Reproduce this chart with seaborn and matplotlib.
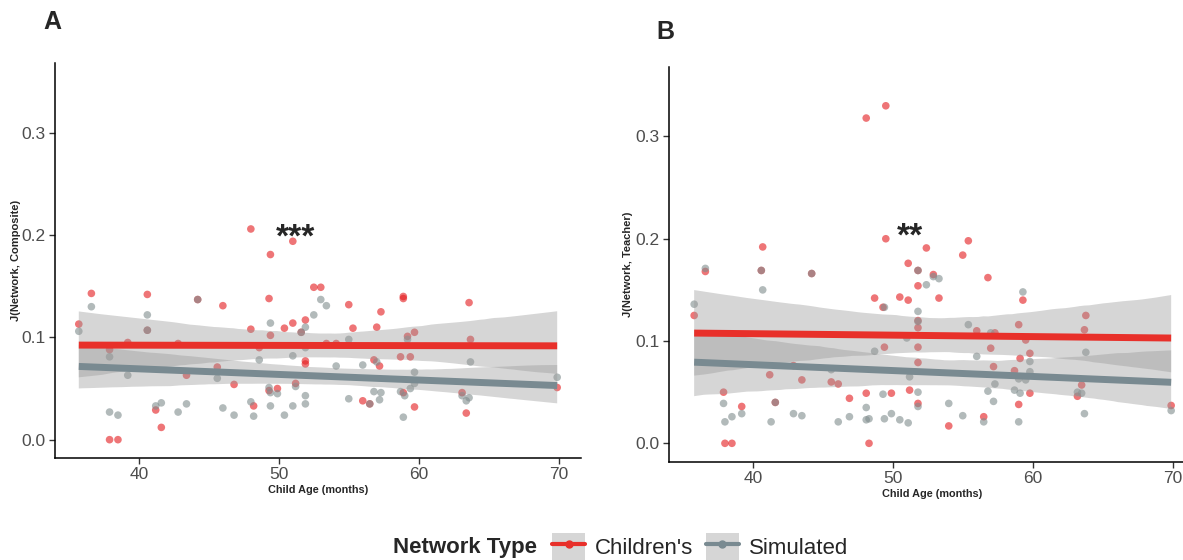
import matplotlib
matplotlib.use("Agg")
from matplotlib import pyplot as plt
from matplotlib.patches import Patch
from matplotlib.lines import Line2D
import pandas as pd
import seaborn as sns

# panel A: J(Network, Composite)
a_kid_age = [35.7, 36.6, 37.9, 37.9, 38.5, 39.2, 40.6, 40.6, 41.2, 41.6, 42.8, 43.4, 44.2, 45.6, 46.0,
             46.8, 48.0, 48.0, 48.2, 48.6, 49.3, 49.4, 49.4, 49.3, 49.9, 50.4, 51.0, 51.0, 51.2, 51.6,
             51.9, 51.9, 51.9, 52.5, 53.0, 53.4, 54.1, 55.0, 55.3, 56.0, 56.5, 56.8, 57.0, 57.2, 57.3,
             58.9, 58.9, 58.7, 58.9, 59.2, 59.4, 59.7, 59.7, 63.1, 63.4, 63.6, 63.7, 69.9]
a_kid_j = [0.113, 0.143, 0.088, 0.000, 0.000, 0.095, 0.142, 0.107, 0.029, 0.012, 0.094, 0.063, 0.137, 0.071, 0.131,
           0.054, 0.206, 0.108, 0.033, 0.090, 0.138, 0.181, 0.102, 0.048, 0.050, 0.109, 0.194, 0.114, 0.055, 0.105,
           0.117, 0.077, 0.074, 0.149, 0.149, 0.094, 0.094, 0.132, 0.109, 0.038, 0.035, 0.078, 0.110, 0.072, 0.125,
           0.138, 0.140, 0.081, 0.046, 0.101, 0.081, 0.105, 0.032, 0.046, 0.026, 0.134, 0.098, 0.051]
a_sim_age = [35.7, 36.6, 37.9, 37.9, 38.5, 39.2, 40.6, 40.6, 41.2, 41.6, 42.8, 43.4, 44.2, 45.6, 46.0,
             46.8, 48.0, 48.2, 48.6, 49.3, 49.4, 49.4, 49.4, 49.9, 50.4, 51.0, 51.2, 51.0, 51.6, 51.9,
             51.9, 51.9, 51.9, 52.5, 53.0, 53.4, 54.1, 55.0, 55.0, 56.0, 56.5, 56.8, 57.0, 57.3, 57.2,
             58.7, 59.0, 58.9, 59.2, 59.4, 59.7, 59.7, 63.1, 63.4, 63.6, 63.7, 69.9]
a_sim_j = [0.106, 0.130, 0.081, 0.027, 0.024, 0.063, 0.122, 0.107, 0.033, 0.036, 0.027, 0.035, 0.137, 0.060, 0.031,
           0.024, 0.037, 0.023, 0.078, 0.051, 0.114, 0.046, 0.033, 0.045, 0.024, 0.082, 0.052, 0.033, 0.105, 0.110,
           0.090, 0.043, 0.035, 0.122, 0.137, 0.131, 0.072, 0.098, 0.040, 0.073, 0.035, 0.047, 0.076, 0.046, 0.039,
           0.047, 0.043, 0.022, 0.098, 0.050, 0.066, 0.055, 0.043, 0.038, 0.041, 0.076, 0.061]

# panel B: J(Network, Teacher)
b_kid_age = [35.8, 36.6, 37.9, 38.0, 38.5, 39.2, 40.7, 40.6, 41.2, 41.6, 42.9, 43.5, 44.2, 45.6, 46.1,
             46.9, 48.1, 48.1, 48.3, 48.7, 49.5, 49.5, 49.3, 49.4, 49.9, 50.5, 51.1, 51.1, 51.2, 51.8,
             51.8, 51.8, 51.8, 51.8, 51.8, 51.8, 52.4, 52.9, 53.3, 54.0, 55.0, 55.4, 56.0, 56.8, 57.3,
             57.0, 57.2, 56.5, 58.7, 59.0, 59.0, 59.1, 59.3, 59.5, 59.8, 59.8, 63.2, 63.5, 63.7, 63.8, 69.9]
b_kid_j = [0.125, 0.168, 0.050, 0.000, 0.000, 0.036, 0.192, 0.169, 0.067, 0.040, 0.076, 0.062, 0.166, 0.060, 0.058,
           0.044, 0.318, 0.049, 0.000, 0.142, 0.330, 0.200, 0.133, 0.094, 0.049, 0.143, 0.176, 0.140, 0.052, 0.169,
           0.154, 0.120, 0.113, 0.094, 0.079, 0.039, 0.191, 0.165, 0.142, 0.017, 0.184, 0.198, 0.110, 0.162, 0.108,
           0.093, 0.075, 0.026, 0.071, 0.116, 0.038, 0.083, 0.140, 0.101, 0.088, 0.049, 0.046, 0.057, 0.111, 0.125, 0.037]
b_sim_age = [35.8, 36.6, 37.9, 38.0, 38.5, 39.2, 40.6, 40.7, 41.3, 41.6, 42.9, 43.5, 44.2, 45.6, 46.1,
             46.9, 48.1, 48.1, 48.3, 48.7, 49.4, 49.3, 49.4, 49.9, 50.5, 51.1, 51.2, 51.0, 51.8, 51.8,
             51.8, 51.8, 51.8, 52.4, 52.9, 53.3, 54.0, 55.0, 55.4, 56.0, 57.0, 57.3, 56.8, 57.2, 56.5,
             58.7, 59.0, 59.0, 59.1, 59.3, 59.5, 59.8, 59.8, 63.2, 63.5, 63.7, 63.8, 69.9]
b_sim_j = [0.136, 0.171, 0.039, 0.021, 0.026, 0.029, 0.169, 0.150, 0.021, 0.040, 0.029, 0.027, 0.166, 0.072, 0.021,
           0.026, 0.035, 0.023, 0.024, 0.090, 0.133, 0.048, 0.024, 0.029, 0.023, 0.020, 0.065, 0.103, 0.169, 0.129,
           0.119, 0.050, 0.036, 0.155, 0.163, 0.161, 0.039, 0.027, 0.116, 0.085, 0.108, 0.058, 0.051, 0.041, 0.021,
           0.052, 0.063, 0.021, 0.049, 0.148, 0.062, 0.080, 0.070, 0.050, 0.049, 0.029, 0.089, 0.032]

types = ["Children's", "Simulated"]
RED_LINE = "#E8302A"
RED_PT = "#E41A1C"
GREY_LINE = "#798A91"
GREY_PT = "#7F8C8D"

sns.set_style("ticks")
plt.rcParams['font.family'] = ['Liberation Sans', 'DejaVu Sans']


def drawPanel(ax, kidAge, kidJ, simAge, simJ, ylabel, stars, starY):
    df = pd.DataFrame({
        "age": kidAge + simAge,
        "j": kidJ + simJ,
        "type": [types[0]] * len(kidAge) + [types[1]] * len(simAge),
    })
    sns.scatterplot(data=df, x="age", y="j", hue="type", hue_order=types,
                    palette=[RED_PT, GREY_PT], s=30, alpha=0.6, linewidth=0,
                    legend=False, ax=ax, zorder=1)
    for name, col in zip(types, [RED_LINE, GREY_LINE]):
        sub = df[df["type"] == name]
        sns.regplot(data=sub, x="age", y="j", scatter=False, ci=95, seed=0,
                    color=col, line_kws={"lw": 5, "solid_capstyle": "butt", "zorder": 3}, ax=ax)
        band = ax.collections[-1]
        band.set_facecolor("#999999")
        band.set_alpha(0.4)
        band.set_edgecolor("none")

    ax.set_xlim(34.0, 71.6)
    ax.set_ylim(-0.018, 0.368)
    ax.set_xticks([40, 50, 60, 70])
    ax.set_yticks([0.0, 0.1, 0.2, 0.3])
    ax.set_yticklabels(["0.0", "0.1", "0.2", "0.3"])
    sns.despine(ax=ax)
    for s in ["left", "bottom"]:
        ax.spines[s].set_linewidth(1.1)
        ax.spines[s].set_color("black")
    ax.tick_params(labelsize=12.5, labelcolor="#4D4D4D", color="#333333", length=4, width=1, pad=2.5)
    ax.set_xlabel("Child Age (months)", fontsize=7.8, fontweight="bold")
    ax.set_ylabel(ylabel, fontsize=8, fontweight="bold")
    ax.text(51.2, starY, stars, ha="center", va="baseline", fontsize=24, fontweight="bold")


fig = plt.figure(figsize=(11.83, 5.6), dpi=100)
axA = fig.add_axes([0.0465, 0.182, 0.4446, 0.705])
axB = fig.add_axes([0.5655, 0.1755, 0.4446, 0.705])

drawPanel(axA, a_kid_age, a_kid_j, a_sim_age, a_sim_j, "J(Network, Composite)", "***", 0.189)
drawPanel(axB, b_kid_age, b_kid_j, b_sim_age, b_sim_j, "J(Network, Teacher)", "**", 0.193)
axA.yaxis.set_label_coords(-0.064, 0.5)
axB.yaxis.set_label_coords(-0.068, 0.5)
axA.xaxis.set_label_coords(0.5, -0.068)
axB.xaxis.set_label_coords(0.5, -0.068)

fig.text(52 / 1183, 1 - 22 / 560, "A", ha="center", va="center", fontsize=18, fontweight="bold")
fig.text(665 / 1183, 1 - 32 / 560, "B", ha="center", va="center", fontsize=18, fontweight="bold")

# legend at the bottom
fig.text(393 / 1183, 1 - 547 / 560, "Network Type", ha="left", va="center", fontsize=16, fontweight="bold")
handles = [
    (Patch(facecolor="#D6D6D6", edgecolor="none"),
     Line2D([], [], color=RED_LINE, lw=3, marker="o", markersize=5)),
    (Patch(facecolor="#D6D6D6", edgecolor="none"),
     Line2D([], [], color=GREY_LINE, lw=3, marker="o", markersize=5)),
]
fig.legend(handles, types, loc="center left", bbox_to_anchor=(543 / 1183, 1 - 547 / 560),
           ncol=2, frameon=False, fontsize=16, handlelength=1.5, handleheight=1.5,
           handletextpad=0.45, columnspacing=0.55, borderaxespad=0)

fig.savefig("out.png", dpi=100)
